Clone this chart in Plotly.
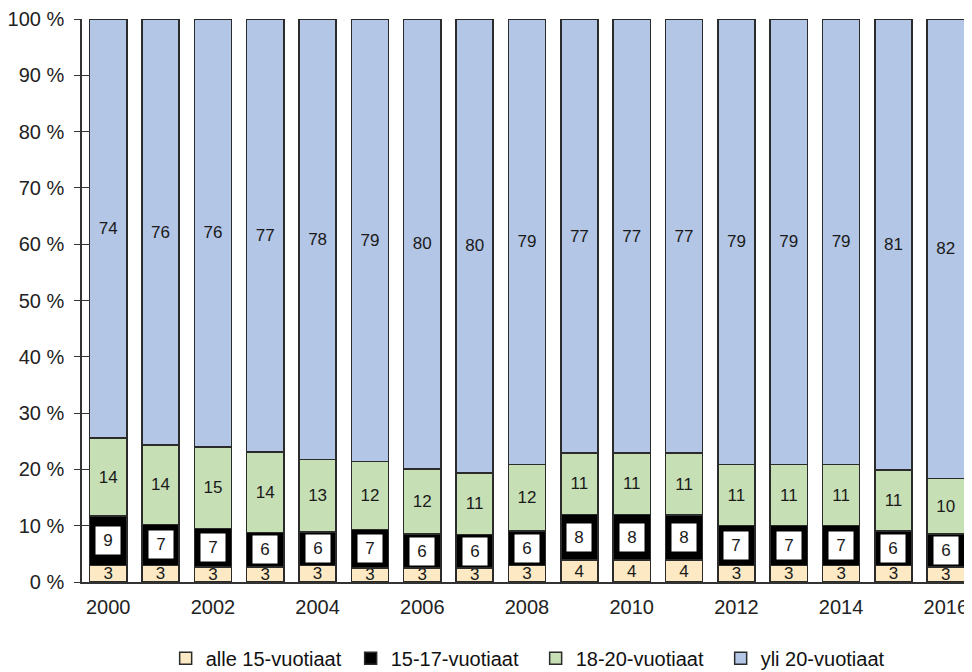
import plotly.graph_objects as go

years = list(range(2000, 2017))
# estimated shares (%)
alle15 = [2.9, 2.9, 2.7, 2.7, 2.9, 2.5, 2.5, 2.5, 2.9, 3.9, 3.9, 3.9, 2.9, 2.9, 2.9, 2.9, 2.7]
v15_17 = [8.8, 7.35, 6.8, 6.1, 6.0, 6.8, 6.0, 5.9, 6.2, 8.1, 8.1, 8.0, 7.1, 7.1, 7.1, 6.15, 5.8]
v18_20 = [13.9, 14.05, 14.5, 14.3, 12.9, 12.1, 11.6, 11.0, 11.8, 10.9, 10.9, 11.0, 10.9, 10.9, 10.9, 10.85, 9.9]
yli20 = [74.4, 75.7, 76.0, 76.9, 78.2, 78.6, 79.9, 80.6, 79.1, 77.1, 77.1, 77.1, 79.1, 79.1, 79.1, 80.1, 81.6]

# labels as printed on the chart
lab_alle15 = [3, 3, 3, 3, 3, 3, 3, 3, 3, 4, 4, 4, 3, 3, 3, 3, 3]
lab_15_17 = [9, 7, 7, 6, 6, 7, 6, 6, 6, 8, 8, 8, 7, 7, 7, 6, 6]
lab_18_20 = [14, 14, 15, 14, 13, 12, 12, 11, 12, 11, 11, 11, 11, 11, 11, 11, 10]
lab_yli20 = [74, 76, 76, 77, 78, 79, 80, 80, 79, 77, 77, 77, 79, 79, 79, 81, 82]
tick_years = [2000, 2002, 2004, 2006, 2008, 2010, 2012, 2014, 2016]

names = ["alle 15-vuotiaat", "15-17-vuotiaat", "18-20-vuotiaat", "yli 20-vuotiaat"]
colors = ["#FDEAC4", "#000000", "#C6DFB5", "#B3C6E6"]
series = [alle15, v15_17, v18_20, yli20]
labels = [lab_alle15, None, lab_18_20, lab_yli20]

font_family = "Liberation Sans, Arial, sans-serif"
fig = go.Figure()
for name, col, vals, lab in zip(names, colors, series, labels):
    fig.add_trace(go.Bar(
        x=years, y=vals, name=name,
        marker=dict(color=col, line=dict(color="#2b2b2b", width=1.5)),
        text=[str(v) for v in lab] if lab else None,
        textposition="inside" if lab else "none",
        insidetextanchor="middle",
        textangle=0,
        constraintext="none",
        textfont=dict(size=17, color="#1a1a1a", family=font_family),
        hoverinfo="skip",
    ))

# white boxed labels for the black segment
for yr, a, b, lab in zip(years, alle15, v15_17, lab_15_17):
    fig.add_annotation(
        x=yr, y=a + b / 2, text=str(lab), showarrow=False,
        bgcolor="white", width=22, height=25, borderpad=1,
        font=dict(size=17, color="#1a1a1a", family=font_family),
    )

# invisible overlay axis to draw the inner half of the crossing tick marks
fig.add_trace(go.Scatter(x=[years[0]], y=[0], yaxis="y2", mode="markers",
                         marker=dict(opacity=0), showlegend=False, hoverinfo="skip"))

fig.update_layout(
    barmode="stack",
    bargap=0.29,
    width=964, height=664,
    margin=dict(l=74, r=0, t=11, b=90, autoexpand=False),
    paper_bgcolor="white", plot_bgcolor="white",
    font=dict(family=font_family, size=20, color="#222222"),
    showlegend=True,
    legend=dict(orientation="h", x=0.094, xanchor="left", y=-0.101, yanchor="top",
                font=dict(size=20, color="#111111"), traceorder="normal",
                itemwidth=30, entrywidth=140),
    yaxis=dict(range=[0, 100], dtick=10, ticksuffix=" %", ticks="outside", ticklen=6,
               tickcolor="#333333", showline=True, linecolor="#333333", linewidth=1.5,
               showgrid=False, zeroline=False, ticklabelstandoff=6,
               tickfont=dict(size=20, color="#222222")),
    yaxis2=dict(overlaying="y", side="left", range=[0, 100], dtick=10, ticks="inside",
                ticklen=8, tickcolor="#333333", showticklabels=False, showgrid=False,
                zeroline=False, showline=False),
    xaxis=dict(range=[1999.5, 2016.5], tickmode="array", tickvals=tick_years,
               ticktext=[str(t) for t in tick_years],
               showline=True, linecolor="#333333", linewidth=1.5, ticks="", showgrid=False,
               zeroline=False, ticklabelstandoff=6, ticklabeloverflow="allow",
               tickfont=dict(size=20, color="#222222")),
)

fig.write_html("out.html")
